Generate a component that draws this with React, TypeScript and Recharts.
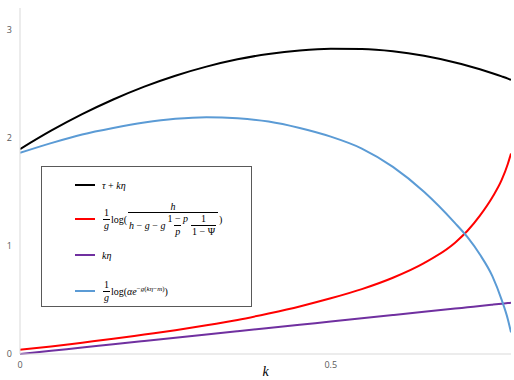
import React from "react";
import { LineChart, Line, XAxis, YAxis, Legend } from "recharts";

// k values along the x axis
const kValues = [
  0, 0.05, 0.1, 0.15, 0.2, 0.25, 0.3, 0.35, 0.4, 0.45, 0.5, 0.55, 0.6, 0.65,
  0.7, 0.72, 0.74, 0.76, 0.775, 0.785, 0.79,
];

const tauPlusKEta = [
  1.895, 2.065, 2.218, 2.354, 2.473, 2.574, 2.658, 2.726, 2.775, 2.808, 2.824,
  2.821, 2.8, 2.758, 2.696, 2.666, 2.633, 2.597, 2.568, 2.547, 2.535,
];
const logRatio = [
  0.04, 0.07, 0.105, 0.14, 0.18, 0.22, 0.265, 0.315, 0.375, 0.44, 0.515, 0.6,
  0.705, 0.84, 1.03, 1.14, 1.28, 1.45, 1.61, 1.76, 1.855,
];
const kEta = [
  0, 0.03, 0.06, 0.09, 0.12, 0.15, 0.18, 0.21, 0.24, 0.27, 0.3, 0.33, 0.36,
  0.39, 0.42, 0.432, 0.444, 0.456, 0.465, 0.471, 0.474,
];
const logAlpha = [
  1.86, 1.95, 2.03, 2.09, 2.14, 2.175, 2.19, 2.18, 2.15, 2.09, 2.01, 1.9, 1.73,
  1.5, 1.21, 1.08, 0.92, 0.72, 0.5, 0.32, 0.2,
];

const xTicks = [0, 0.5];
const yTicks = [0, 1, 2, 3];

const data = kValues.map((k, i) => ({
  k,
  a: tauPlusKEta[i],
  b: logRatio[i],
  c: kEta[i],
  d: logAlpha[i],
}));

const series = [
  { key: "a", color: "#000000" },
  { key: "b", color: "#FF0000" },
  { key: "c", color: "#7030A0" },
  { key: "d", color: "#5B9BD5" },
];

const mathFont = '"Liberation Serif", "DejaVu Serif", serif';

function Frac({ num, den }: { num: React.ReactNode; den: React.ReactNode }) {
  return (
    <span
      style={{
        display: "inline-flex",
        flexDirection: "column",
        alignItems: "center",
        verticalAlign: "middle",
        margin: "0 1px",
      }}
    >
      <span style={{ padding: "0 1px", lineHeight: 1.15 }}>{num}</span>
      <span
        style={{ borderTop: "1px solid #000", padding: "0 1px", lineHeight: 1.15 }}
      >
        {den}
      </span>
    </span>
  );
}

const I = ({ children }: { children: React.ReactNode }) => <i>{children}</i>;

const labels: Record<string, React.ReactNode> = {
  a: (
    <span>
      <I>τ</I> + <I>kη</I>
    </span>
  ),
  b: (
    <span style={{ display: "inline-flex", alignItems: "center" }}>
      <Frac num="1" den={<I>g</I>} />
      <span>log(</span>
      <Frac
        num={<I>h</I>}
        den={
          <span style={{ display: "inline-flex", alignItems: "center" }}>
            <I>h</I>&nbsp;−&nbsp;<I>g</I>&nbsp;−&nbsp;<I>g</I>
            <Frac num={<span>1 − <I>p</I></span>} den={<I>p</I>} />
            <Frac num="1" den="1 − Ψ" />
          </span>
        }
      />
      <span>)</span>
    </span>
  ),
  c: (
    <span>
      <I>kη</I>
    </span>
  ),
  d: (
    <span style={{ display: "inline-flex", alignItems: "center" }}>
      <Frac num="1" den={<I>g</I>} />
      <span>
        log(<I>αe</I>
        <sup style={{ fontSize: 7 }}>
          −<I>g</I>(<I>kη</I>−<I>m</I>)
        </sup>
        )
      </span>
    </span>
  ),
};

const rowCenters = [18, 52, 88, 124];

function LegendBox(props: any) {
  const payload = props.payload || [];
  return (
    <div
      style={{
        position: "relative",
        width: 209,
        height: 139,
        border: "1px solid #595959",
        background: "#fff",
        fontFamily: mathFont,
        fontSize: 10,
        color: "#000",
      }}
    >
      {payload.map((p: any, i: number) => (
        <div
          key={p.dataKey}
          style={{
            position: "absolute",
            left: 33,
            top: rowCenters[i] - 20,
            height: 40,
            display: "flex",
            alignItems: "center",
            whiteSpace: "nowrap",
          }}
        >
          <span
            style={{
              display: "inline-block",
              width: 20,
              height: 2,
              background: p.color,
              marginRight: 7,
            }}
          />
          {labels[p.dataKey]}
        </div>
      ))}
    </div>
  );
}

export default function App() {
  return (
    <div style={{ position: "absolute", left: 0, top: 0, background: "#fff" }}>
      <LineChart
        width={514}
        height={380}
        data={data}
        margin={{ top: 8, right: 3, left: 0, bottom: 0 }}
      >
        <XAxis
          dataKey="k"
          type="number"
          domain={[0, 0.79]}
          ticks={xTicks}
          allowDataOverflow
          height={26}
          tickSize={0}
          tickMargin={8}
          axisLine={{ stroke: "#D9D9D9" }}
          tick={{ fill: "#595959", fontSize: 9, fontFamily: "Open Sans" }}
          label={{
            value: "k",
            position: "insideBottom",
            offset: 4,
            style: {
              fontFamily: mathFont,
              fontStyle: "italic",
              fontSize: 14,
              fill: "#000",
            },
          }}
        />
        <YAxis
          type="number"
          domain={[0, 3.2]}
          ticks={yTicks}
          width={20}
          tickSize={0}
          tickMargin={8}
          axisLine={{ stroke: "#D9D9D9" }}
          tick={{ fill: "#595959", fontSize: 9, fontFamily: "Open Sans" }}
        />
        <Legend
          layout="vertical"
          align="center"
          verticalAlign="middle"
          wrapperStyle={{ left: 41, top: 166, width: 211, height: 141 }}
          content={<LegendBox />}
        />
        {series.map((s) => (
          <Line
            key={s.key}
            dataKey={s.key}
            type="monotone"
            stroke={s.color}
            strokeWidth={2}
            dot={false}
            isAnimationActive={false}
          />
        ))}
      </LineChart>
    </div>
  );
}
